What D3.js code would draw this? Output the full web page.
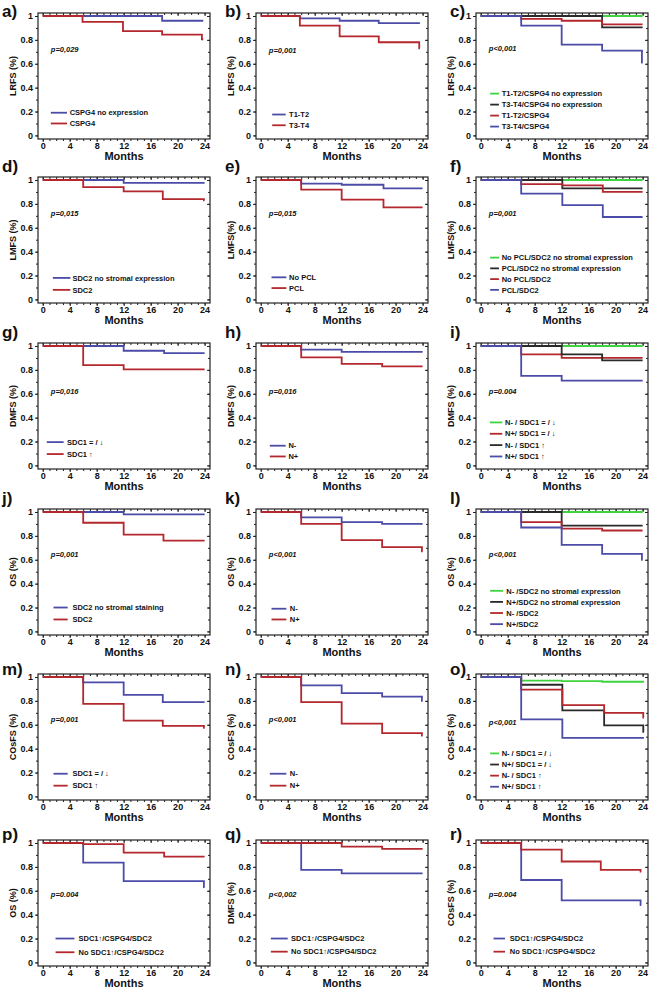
<!DOCTYPE html>
<html>
<head>
<meta charset="utf-8">
<script src="https://cdn.jsdelivr.net/npm/d3@7"></script>
<style>
  body { margin: 0; background: #fff; }
  svg text { font-family: "Liberation Sans", Arial, sans-serif; fill: #111; }
  .tick text { font-weight: bold; font-size: 9px; }
  .tick line { stroke: #222; }
</style>
</head>
<body>
<svg id="chart" width="653" height="992"></svg>
<script>
// panel letters, axis titles, p-values
const panelLetters = ["a", "b", "c", "d", "e", "f", "g", "h", "i", "j", "k", "l", "m", "n", "o", "p", "q", "r"];
const yTitles = ["LRFS (%)", "LRFS (%)", "LRFS (%)", "LMFS (%)", "LMFS(%)", "LMFS(%)",
  "DMFS (%)", "DMFS (%)", "DMFS (%)", "OS (%)", "OS (%)", "OS (%)",
  "COsFS (%)", "COsFS (%)", "COsFS (%)", "OS (%)", "DMFS (%)", "COsFS (%)"];
const pValues = ["p=0,029", "p=0,001", "p<0,001", "p=0,015", "p=0,015", "p=0,001",
  "p=0,016", "p=0,016", "p=0.004", "p=0,001", "p<0,001", "p<0,001",
  "p=0,001", "p<0,001", "p<0,001", "p=0.004", "p<0,002", "p=0.004"];
const xTicks = [0, 4, 8, 12, 16, 20, 24];
const yTicks = [0, 0.2, 0.4, 0.6, 0.8, 1];

// legend labels per panel
const legendLabels = [
  ["CSPG4 no expression", "CSPG4"],
  ["T1-T2", "T3-T4"],
  ["T1-T2/CSPG4 no expression", "T3-T4/CSPG4 no expression", "T1-T2/CSPG4", "T3-T4/CSPG4"],
  ["SDC2 no stromal expression", "SDC2"],
  ["No PCL", "PCL"],
  ["No PCL/SDC2 no stromal expression", "PCL/SDC2 no stromal expression", "No PCL/SDC2", "PCL/SDC2"],
  ["SDC1 = / \u2193", "SDC1 \u2191"],
  ["N-", "N+"],
  ["N- / SDC1 = / \u2193", "N+/ SDC1 = / \u2193", "N- / SDC1 \u2191", "N+/ SDC1 \u2191"],
  ["SDC2 no stromal staining", "SDC2"],
  ["N-", "N+"],
  ["N- /SDC2 no stromal expression", "N+/SDC2 no stromal expression", "N- /SDC2", "N+/SDC2"],
  ["SDC1 = / \u2193", "SDC1 \u2191"],
  ["N-", "N+"],
  ["N- / SDC1 = / \u2193", "N+/ SDC1 = / \u2193", "N- / SDC1 \u2191", "N+/ SDC1 \u2191"],
  ["SDC1\u2191/CSPG4/SDC2", "No SDC1\u2191/CSPG4/SDC2"],
  ["SDC1\u2191/CSPG4/SDC2", "No SDC1\u2191/CSPG4/SDC2"],
  ["SDC1\u2191/CSPG4/SDC2", "No SDC1\u2191/CSPG4/SDC2"]
];
const seriesColorKeys = [
  ["blue", "red"], ["blue", "red"], ["green", "black", "red", "blue"],
  ["blue", "red"], ["blue", "red"], ["green", "black", "red", "blue"],
  ["blue", "red"], ["blue", "red"], ["green", "red", "black", "blue"],
  ["blue", "red"], ["blue", "red"], ["green", "black", "red", "blue"],
  ["blue", "red"], ["blue", "red"], ["green", "black", "red", "blue"],
  ["blue", "red"], ["blue", "red"], ["blue", "red"]
];

// survival steps [month, survival], same order as legend
const survA = [
  [[0, 1], [17.7, 0.96], [23.8, 0.96]],
  [[0, 1], [5.9, 0.95], [11.9, 0.874], [17.7, 0.844], [23.6, 0.805], [23.8, 0.805]]
];
const survB = [
  [[0, 1], [5.8, 0.98], [11.7, 0.96], [17.5, 0.94], [23.6, 0.94]],
  [[0, 1], [5.8, 0.92], [11.7, 0.83], [17.5, 0.78], [23.5, 0.73], [23.6, 0.73]]
];
const survC = [
  [[0, 1], [24, 1]],
  [[0, 1], [18, 0.905], [24, 0.905]],
  [[0, 1], [6, 0.975], [12, 0.96], [18, 0.93], [24, 0.93]],
  [[0, 1], [6, 0.92], [12, 0.76], [18, 0.71], [23.9, 0.61], [24, 0.61]]
];
const survD = [
  [[0, 1], [12, 0.975], [24, 0.975]],
  [[0, 1], [6, 0.94], [12, 0.905], [17.8, 0.84], [23.9, 0.83], [24, 0.83]]
];
const survE = [
  [[0, 1], [6, 0.97], [12, 0.96], [18.2, 0.93], [24, 0.93]],
  [[0, 1], [6, 0.92], [12, 0.835], [18.2, 0.77], [24, 0.77]]
];
const survF = [
  [[0, 1], [24, 1]],
  [[0, 1], [12.1, 0.93], [24, 0.93]],
  [[0, 1], [6, 0.965], [12.1, 0.955], [18.1, 0.9], [24, 0.9]],
  [[0, 1], [6, 0.885], [12.1, 0.79], [18.1, 0.69], [24, 0.69]]
];
const survG = [
  [[0, 1], [12, 0.96], [18, 0.94], [24, 0.94]],
  [[0, 1], [6, 0.84], [12, 0.805], [24, 0.805]]
];
const survH = [
  [[0, 1], [6, 0.97], [12, 0.95], [24, 0.95]],
  [[0, 1], [6, 0.905], [12, 0.85], [18, 0.83], [24, 0.83]]
];
const survI = [
  [[0, 1], [24, 1]],
  [[0, 1], [6, 0.93], [12, 0.9], [24, 0.9]],
  [[0, 1], [12, 0.93], [18, 0.88], [24, 0.88]],
  [[0, 1], [6, 0.75], [12, 0.71], [24, 0.71]]
];
const survJ = [
  [[0, 1], [12, 0.98], [24, 0.98]],
  [[0, 1], [6, 0.91], [12, 0.81], [17.9, 0.76], [24, 0.76]]
];
const survK = [
  [[0, 1], [6, 0.955], [12, 0.915], [18, 0.9], [24, 0.9]],
  [[0, 1], [6, 0.9], [12, 0.765], [18, 0.705], [23.9, 0.67], [24, 0.67]]
];
const survL = [
  [[0, 1], [24, 1]],
  [[0, 1], [12, 0.885], [24, 0.885]],
  [[0, 1], [6, 0.915], [12, 0.86], [18, 0.845], [24, 0.845]],
  [[0, 1], [6, 0.87], [12, 0.725], [18, 0.65], [23.9, 0.6], [24, 0.6]]
];
const survM = [
  [[0, 1], [6, 0.955], [12, 0.85], [17.8, 0.79], [24, 0.79]],
  [[0, 1], [6, 0.775], [12, 0.635], [17.8, 0.59], [23.9, 0.575], [24, 0.575]]
];
const survN = [
  [[0, 1], [6, 0.93], [12, 0.865], [18, 0.835], [23.9, 0.8], [24, 0.8]],
  [[0, 1], [6, 0.79], [12, 0.61], [18, 0.53], [23.9, 0.51], [24, 0.51]]
];
const survO = [
  [[0, 1], [6, 0.97], [12, 0.965], [18, 0.96], [24.2, 0.96]],
  [[0, 1], [6, 0.935], [12.1, 0.72], [18.3, 0.595], [24.1, 0.54], [24.2, 0.54]],
  [[0, 1], [6, 0.895], [12.1, 0.765], [18.3, 0.7], [24.1, 0.66], [24.2, 0.66]],
  [[0, 1], [6, 0.645], [12.1, 0.49], [24.2, 0.49]]
];
const survP = [
  [[0, 1], [6, 0.835], [12, 0.68], [23.9, 0.63], [24, 0.63]],
  [[0, 1], [6, 0.99], [12, 0.92], [18, 0.885], [24, 0.885]]
];
const survQ = [
  [[0, 1], [6, 0.775], [12, 0.745], [24, 0.745]],
  [[0, 1], [12, 0.97], [18, 0.95], [24, 0.95]]
];
const survR = [
  [[0, 1], [6, 0.69], [12, 0.52], [23.7, 0.48], [23.8, 0.48]],
  [[0, 1], [6, 0.945], [12, 0.845], [17.8, 0.775], [23.7, 0.76], [23.8, 0.76]]
];
const survival = [survA, survB, survC, survD, survE, survF, survG, survH, survI,
  survJ, survK, survL, survM, survN, survO, survP, survQ, survR];

// ---- layout & style ----
const COLORS = { blue: "#4b4ba8", red: "#b3272d", green: "#3fd43f", black: "#2a2a2a" };
const frameTops = [13, 177, 343, 509, 674, 840];
const frameLefts = [38, 256, 476];
const labelX = [2, 225, 450];
const labelBase = [17, 172, 338, 504, 675, 840];
const frameW = 172, frameH = 126;
// legend placement: [line start, line end, text start (months), first row y, row step (survival units)]
const legendPlace = [
  [1.2, 3.6, 4.0, 0.19, 0.09], [1.7, 3.7, 4.2, 0.175, 0.09], [1.4, 2.7, 3.1, 0.35, 0.092],
  [1.5, 4.1, 4.4, 0.18, 0.1], [1.6, 3.8, 4.2, 0.185, 0.09], [1.4, 2.7, 3.1, 0.35, 0.09],
  [0.6, 3.1, 3.6, 0.195, 0.1], [1.35, 3.7, 4.1, 0.165, 0.09], [1.35, 3.2, 3.6, 0.36, 0.095],
  [1.6, 3.7, 4.4, 0.2, 0.1], [1.6, 3.8, 4.3, 0.19, 0.09], [1.4, 3.3, 3.8, 0.34, 0.093],
  [1.6, 3.7, 4.4, 0.19, 0.1], [1.35, 3.8, 4.3, 0.19, 0.1], [1.4, 2.7, 3.1, 0.36, 0.093],
  [1.9, 4.7, 5.3, 0.2, 0.115], [1.5, 4.0, 4.5, 0.2, 0.11], [1.9, 3.6, 4.3, 0.2, 0.11]
];
const pY = [0.7, 0.69, 0.71, 0.7, 0.7, 0.7, 0.6, 0.6, 0.6, 0.62, 0.62, 0.62, 0.62, 0.62, 0.6, 0.55, 0.55, 0.55];

const svg = d3.select("#chart");
svg.append("rect").attr("width", 653).attr("height", 992).attr("fill", "#fff");

panelLetters.forEach((letter, i) => {
  const row = Math.floor(i / 3), col = i % 3;
  const g = svg.append("g")
    .attr("transform", `translate(${frameLefts[col]},${frameTops[row]})`);

  const x = d3.scaleLinear().domain([-0.7, 24.8]).range([0, frameW]);
  const y = d3.scaleLinear().domain([-0.03, 1.025]).range([frameH, 0]);

  // minor ticks
  const minorX = d3.range(0, 25, 1);
  const minorY = d3.range(0, 1.01, 0.1);
  g.append("g").attr("transform", `translate(0,${frameH})`)
    .call(d3.axisBottom(x).tickValues(minorX).tickSize(2).tickFormat(""));
  g.append("g").call(d3.axisTop(x).tickValues(minorX).tickSize(-2).tickFormat(""));
  g.append("g").call(d3.axisLeft(y).tickValues(minorY).tickSize(2).tickFormat(""));
  g.append("g").attr("transform", `translate(${frameW},0)`)
    .call(d3.axisRight(y).tickValues(minorY).tickSize(-2).tickFormat(""));

  // major ticks with labels
  g.append("g").attr("transform", `translate(0,${frameH})`)
    .call(d3.axisBottom(x).tickValues(xTicks).tickSize(3).tickPadding(1).tickFormat(d3.format("d")));
  g.append("g")
    .call(d3.axisLeft(y).tickValues(yTicks).tickSize(3).tickPadding(2)
      .tickFormat(d => String(+d.toFixed(1))));
  g.append("g").call(d3.axisTop(x).tickValues(xTicks).tickSize(-3).tickFormat(""));
  g.append("g").attr("transform", `translate(${frameW},0)`)
    .call(d3.axisRight(y).tickValues(yTicks).tickSize(-3).tickFormat(""));
  g.selectAll(".domain").remove();

  g.append("rect")
    .attr("width", frameW).attr("height", frameH)
    .attr("fill", "none").attr("stroke", "#222").attr("stroke-width", 1.2);

  // curves
  const line = d3.line().curve(d3.curveStepAfter)
    .x(d => x(d[0])).y(d => y(d[1]));
  survival[i].forEach((pts, k) => {
    g.append("path").datum(pts)
      .attr("fill", "none")
      .attr("stroke", COLORS[seriesColorKeys[i][k]])
      .attr("stroke-width", 1.8)
      .attr("d", line);
  });

  // p-value
  g.append("text")
    .attr("x", x(1.2)).attr("y", y(pY[i]))
    .attr("font-size", "7.5px").attr("font-style", "italic").attr("font-weight", "bold")
    .text(pValues[i]);

  // legend
  const [l0, l1, tx, ly, step] = legendPlace[i];
  legendLabels[i].forEach((lab, k) => {
    const yy = y(ly - k * step);
    g.append("line")
      .attr("x1", x(l0)).attr("x2", x(l1)).attr("y1", yy).attr("y2", yy)
      .attr("stroke", COLORS[seriesColorKeys[i][k]]).attr("stroke-width", 1.8);
    g.append("text")
      .attr("x", x(tx)).attr("y", yy + 2.7)
      .attr("font-size", "7.5px").attr("font-weight", "bold")
      .text(lab);
  });

  // axis titles
  g.append("text")
    .attr("transform", `translate(${-22},${frameH / 2}) rotate(-90)`)
    .attr("text-anchor", "middle")
    .attr("font-size", "9px").attr("font-weight", "bold")
    .text(yTitles[i]);
  g.append("text")
    .attr("x", frameW / 2).attr("y", frameH + 21)
    .attr("text-anchor", "middle")
    .attr("font-size", "11px").attr("font-weight", "bold")
    .text("Months");

  // panel letter
  svg.append("text")
    .attr("x", labelX[col]).attr("y", labelBase[row])
    .attr("font-size", "17px").attr("font-weight", "bold")
    .text(letter + ")");
});
</script>
</body>
</html>
